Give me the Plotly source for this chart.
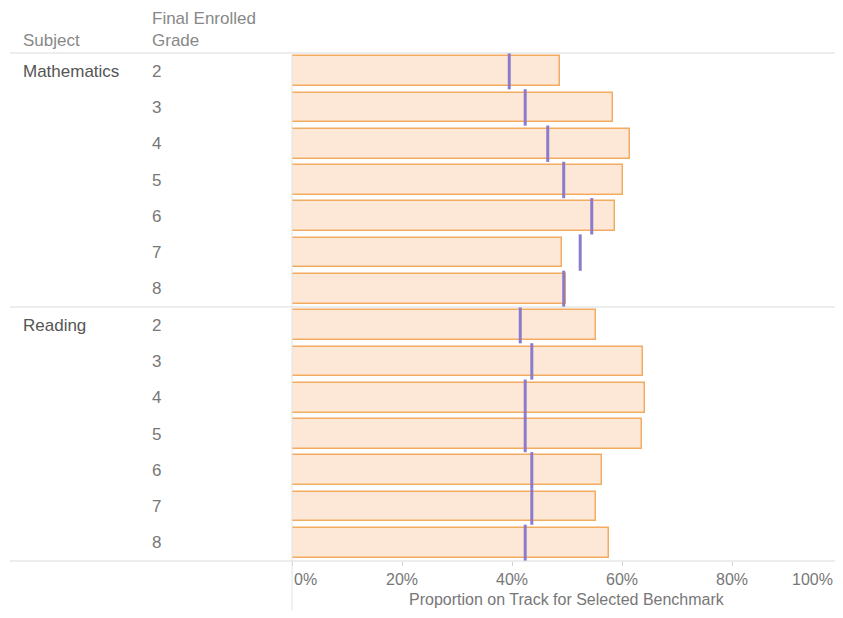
import plotly.graph_objects as go

subjects = ["Mathematics", "Reading"]
grades = ["2", "3", "4", "5", "6", "7", "8"]
math_bar = [48.7, 58.4, 61.5, 60.2, 58.8, 49.0, 49.8]
math_marker = [39.5, 42.4, 46.5, 49.4, 54.5, 52.4, 49.4]
read_bar = [55.3, 63.9, 64.2, 63.6, 56.4, 55.3, 57.7]
read_marker = [41.5, 43.6, 42.4, 42.4, 43.6, 43.6, 42.4]
tick_vals = [0, 20, 40, 60, 80, 100]
tick_text = ["0%", "20%", "40%", "60%", "80%", "100%"]
x_title = "Proportion on Track for Selected Benchmark"
header_subject = "Subject"
header_grade = "Final Enrolled<br>Grade"

# page body has an 8px margin on every side; keep the figure inside it
OFF = 8
PAGE_W, PAGE_H = 843, 618
W, H = PAGE_W - 2 * OFF, PAGE_H - 2 * OFF
FIG_R, FIG_B = OFF + W, OFF + H          # page pixels of figure's right/bottom
PLOT_L, PLOT_T, PLOT_B = 292, 53, 561     # page pixels
PX_PER_UNIT = 5.5                         # 20% == 110 px in the reference
PLOT_R = FIG_R
L, R, T, B = PLOT_L - OFF, FIG_R - PLOT_R, PLOT_T - OFF, FIG_B - PLOT_B
PW, PH = PLOT_R - PLOT_L, PLOT_B - PLOT_T
X_MAX = PW / PX_PER_UNIT


def px(x):
    return (x - PLOT_L) / PW


def py(y):
    return (PLOT_B - y) / PH


bars = math_bar + read_bar
marks = math_marker + read_marker
rows = list(range(len(bars)))

FONT = "Liberation Sans, Arial, sans-serif"
FS = 17

fig = go.Figure()
fig.add_trace(go.Bar(
    x=bars, y=rows, orientation="h", width=0.82,
    marker=dict(color="#fde8d8", line=dict(color="#f3ab60", width=1.5)),
    hoverinfo="x", showlegend=False,
))
fig.add_trace(go.Scatter(
    x=marks, y=rows, mode="markers",
    marker=dict(symbol="line-ns", size=26,
                line=dict(color="#8b7bcb", width=3)),
    showlegend=False, hoverinfo="x",
))

ann = []
for si, subj in enumerate(subjects):
    ann.append(dict(text=subj, xref="paper", yref="y", x=px(21), y=si * 7,
                    xanchor="left", yanchor="middle", showarrow=False,
                    font=dict(family=FONT, size=FS, color="#555555")))
    for gi, g in enumerate(grades):
        ann.append(dict(text=g, xref="paper", yref="y", x=px(150), y=si * 7 + gi,
                        xanchor="left", yanchor="middle", showarrow=False,
                        font=dict(family=FONT, size=FS, color="#777777")))
ann.append(dict(text=header_subject, xref="paper", yref="paper", x=px(21), y=py(40),
                xanchor="left", yanchor="middle", showarrow=False,
                font=dict(family=FONT, size=FS, color="#888888")))
ann.append(dict(text=header_grade, xref="paper", yref="paper", x=px(150), y=py(29),
                xanchor="left", yanchor="middle", showarrow=False, align="left",
                font=dict(family=FONT, size=FS, color="#888888")))
for v, t in zip(tick_vals, tick_text):
    if v == tick_vals[0]:
        a = dict(xref="x", x=v, xanchor="left")
    elif v == tick_vals[-1]:
        a = dict(xref="paper", x=1, xanchor="right")
    else:
        a = dict(xref="x", x=v, xanchor="center")
    ann.append(dict(text=t, yref="paper", y=py(579), yanchor="middle",
                    showarrow=False,
                    font=dict(family=FONT, size=FS - 1, color="#777777"), **a))
ann.append(dict(text=x_title, xref="x", yref="paper", x=50, y=py(599),
                xanchor="center", yanchor="middle", showarrow=False,
                font=dict(family=FONT, size=FS - 1, color="#777777")))

line_col = "#dcdcdc"
shapes = [
    dict(type="line", xref="paper", yref="paper", x0=px(10), x1=1, y0=1, y1=1,
         line=dict(color=line_col, width=1.2)),
    dict(type="line", xref="paper", yref="y", x0=px(10), x1=1, y0=6.5, y1=6.5,
         line=dict(color=line_col, width=1.2)),
    dict(type="line", xref="paper", yref="paper", x0=px(10), x1=1, y0=0, y1=0,
         line=dict(color=line_col, width=1.2)),
    dict(type="line", xref="paper", yref="paper", x0=0, x1=0, y0=py(FIG_B), y1=1,
         line=dict(color="#e2e2e2", width=1)),
]

fig.update_layout(
    width=W, height=H, autosize=False,
    margin=dict(l=L, r=R, t=T, b=B, pad=0),
    paper_bgcolor="white", plot_bgcolor="white",
    annotations=ann, shapes=shapes, bargap=0,
    xaxis=dict(range=[0, X_MAX], showgrid=False, zeroline=False,
               tickvals=tick_vals[:-1], showticklabels=False,
               ticks="outside", ticklen=4, tickcolor="#d0d0d0",
               showline=False, fixedrange=True),
    yaxis=dict(range=[13.5, -0.5], showgrid=False, zeroline=False,
               showticklabels=False, ticks="", showline=False, fixedrange=True),
    font=dict(family=FONT),
)

fig.write_html("out.html")
